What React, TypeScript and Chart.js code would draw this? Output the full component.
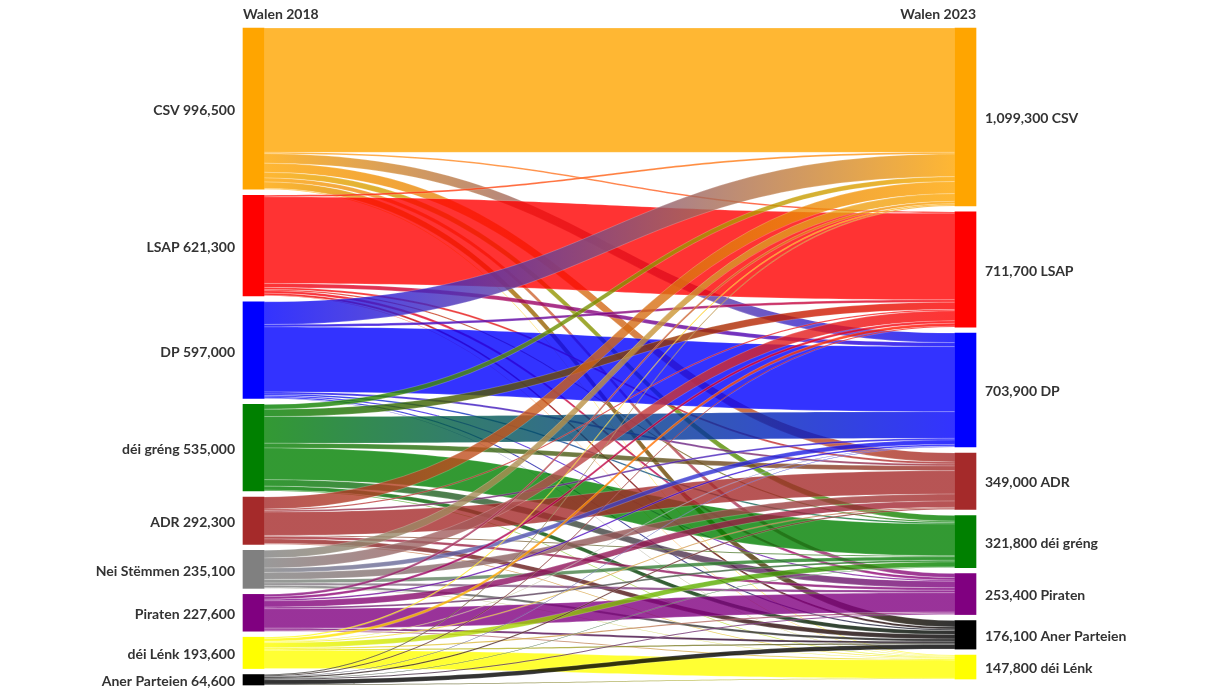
import React, { useEffect, useRef } from 'react';
import { Chart, registerables } from 'chart.js';

Chart.register(...registerables);

// ---- Data -------------------------------------------------------------
const leftTitle = 'Walen 2018';
const rightTitle = 'Walen 2023';

const leftLabels = ['CSV', 'LSAP', 'DP', 'déi gréng', 'ADR', 'Nei Stëmmen', 'Piraten', 'déi Lénk', 'Aner Parteien'];
const leftTotals = [996500, 621300, 597000, 535000, 292300, 235100, 227600, 193600, 64600];
const leftColors = ['#FFA500', '#FF0000', '#0000FF', '#008000', '#A52A2A', '#808080', '#800080', '#FFFF00', '#000000'];

const rightLabels = ['CSV', 'LSAP', 'DP', 'ADR', 'déi gréng', 'Piraten', 'Aner Parteien', 'déi Lénk'];
const rightTotals = [1099300, 711700, 703900, 349000, 321800, 253400, 176100, 147800];
const rightColors = ['#FFA500', '#FF0000', '#0000FF', '#A52A2A', '#008000', '#800080', '#000000', '#FFFF00'];

// Flows from each 2018 node to the 2023 nodes (in rightLabels order)
const fromCSV = [768500, 8000, 58900, 56100, 35000, 25000, 40000, 5000];
const fromLSAP = [10000, 535000, 24700, 12000, 8000, 15000, 13300, 3300];
const fromDP = [140000, 15000, 402000, 12000, 10000, 8000, 8000, 2000];
const fromGreng = [30000, 45000, 165000, 29100, 195900, 40000, 25000, 5000];
const fromADR = [74800, 8000, 10000, 144800, 6000, 15400, 28000, 5300];
const fromNei = [48000, 61700, 27300, 43000, 22000, 15000, 14000, 4100];
const fromPiraten = [15000, 15000, 10000, 39000, 10000, 120000, 12000, 6600];
const fromLenk = [8000, 18000, 3000, 5000, 30900, 9000, 7200, 112500];
const fromAner = [5000, 6000, 3000, 8000, 4000, 6000, 28600, 4000];

const flows = [fromCSV, fromLSAP, fromDP, fromGreng, fromADR, fromNei, fromPiraten, fromLenk, fromAner];

// ---- Layout constants -----------------------------------------------
const NODE_GAP = 37100; // gap between nodes, in value units
const NODE_W = 21;
const W = 1224;
const H = 689;
const FONT = 'bold 14px Lato, "Open Sans", sans-serif';
const TEXT_COLOR = '#333333';

const sum = (a: number[]) => a.reduce((s, v) => s + v, 0);
const leftSizes = flows.map((r) => sum(r));
const rightSizes = rightLabels.map((_, j) => sum(flows.map((r) => r[j])));

function starts(sizes: number[]) {
  const out: number[] = [];
  let acc = 0;
  sizes.forEach((s) => {
    out.push(acc);
    acc += s + NODE_GAP;
  });
  return out;
}
const leftStarts = starts(leftSizes);
const rightStarts = starts(rightSizes);
const Y_MAX = Math.max(
  leftStarts[leftStarts.length - 1] + leftSizes[leftSizes.length - 1],
  rightStarts[rightStarts.length - 1] + rightSizes[rightSizes.length - 1]
);

function rgba(hex: string, a: number) {
  const n = parseInt(hex.slice(1), 16);
  return `rgba(${(n >> 16) & 255},${(n >> 8) & 255},${n & 255},${a})`;
}
const fmt = (v: number) => v.toLocaleString('en-US');

const sankeyPlugin = {
  id: 'sankeyLinks',
  beforeDatasetsDraw(chart: any) {
    const { ctx, scales } = chart;
    const x = scales.x;
    const y = scales.y;
    const xl = x.getPixelForValue(0) + NODE_W / 2;
    const xr = x.getPixelForValue(1) - NODE_W / 2;
    const xm = (xl + xr) / 2;
    const srcOff = leftStarts.slice();
    const tgtOff = rightStarts.slice();
    ctx.save();
    for (let i = 0; i < flows.length; i++) {
      for (let j = 0; j < flows[i].length; j++) {
        const v = flows[i][j];
        const s0 = srcOff[i];
        const s1 = s0 + v;
        srcOff[i] = s1;
        const t0 = tgtOff[j];
        const t1 = t0 + v;
        tgtOff[j] = t1;
        if (v <= 0) continue;
        const ps0 = y.getPixelForValue(s0);
        const ps1 = y.getPixelForValue(s1);
        const pt0 = y.getPixelForValue(t0);
        const pt1 = y.getPixelForValue(t1);
        const g = ctx.createLinearGradient(xl, 0, xr, 0);
        g.addColorStop(0, rgba(leftColors[i], 0.8));
        g.addColorStop(1, rgba(rightColors[j], 0.8));
        ctx.beginPath();
        ctx.moveTo(xl, ps0);
        ctx.bezierCurveTo(xm, ps0, xm, pt0, xr, pt0);
        ctx.lineTo(xr, pt1);
        ctx.bezierCurveTo(xm, pt1, xm, ps1, xl, ps1);
        ctx.closePath();
        ctx.fillStyle = g;
        ctx.fill();
        ctx.strokeStyle = 'rgba(255,255,255,0.4)';
        ctx.lineWidth = 0.5;
        ctx.stroke();
      }
    }
    ctx.restore();
  },
  afterDatasetsDraw(chart: any) {
    const { ctx, scales } = chart;
    const x = scales.x;
    const y = scales.y;
    const xLeftNode = x.getPixelForValue(0) - NODE_W / 2;
    const xRightNode = x.getPixelForValue(1) + NODE_W / 2;
    ctx.save();
    ctx.font = FONT;
    ctx.fillStyle = TEXT_COLOR;
    ctx.textBaseline = 'middle';
    ctx.textAlign = 'right';
    leftLabels.forEach((lab, i) => {
      const cy = y.getPixelForValue(leftStarts[i] + leftSizes[i] / 2) + 2;
      ctx.fillText(`${lab} ${fmt(leftTotals[i])}`, xLeftNode - 8, cy);
    });
    ctx.textAlign = 'left';
    rightLabels.forEach((lab, j) => {
      const cy = y.getPixelForValue(rightStarts[j] + rightSizes[j] / 2) + 1.5;
      ctx.fillText(`${fmt(rightTotals[j])} ${lab}`, xRightNode + 9, cy);
    });
    const top = y.getPixelForValue(0);
    ctx.textAlign = 'left';
    ctx.fillText(leftTitle, xLeftNode, top - 13.5);
    ctx.textAlign = 'right';
    ctx.fillText(rightTitle, xRightNode, top - 13.5);
    ctx.restore();
  },
};

export default function App() {
  const ref = useRef<HTMLCanvasElement | null>(null);
  useEffect(() => {
    document.body.style.margin = '0';
    if (!ref.current) return;
    const nodeData: any[] = [];
    const nodeColors: string[] = [];
    leftSizes.forEach((s, i) => {
      nodeData.push({ x: 0, y: [leftStarts[i], leftStarts[i] + s] });
      nodeColors.push(leftColors[i]);
    });
    rightSizes.forEach((s, j) => {
      nodeData.push({ x: 1, y: [rightStarts[j], rightStarts[j] + s] });
      nodeColors.push(rightColors[j]);
    });
    const chart = new Chart(ref.current, {
      type: 'bar',
      data: {
        datasets: [
          {
            data: nodeData,
            backgroundColor: nodeColors,
            borderWidth: 0,
            barThickness: NODE_W,
            grouped: false,
            clip: false,
          } as any,
        ],
      },
      options: {
        responsive: false,
        animation: false,
        events: [],
        layout: { padding: { left: 253.5, right: W - 965.5, top: 28, bottom: 4 } },
        plugins: { legend: { display: false }, tooltip: { enabled: false }, title: { display: false } },
        scales: {
          x: { type: 'linear', min: 0, max: 1, display: false, offset: false },
          y: { type: 'linear', min: 0, max: Y_MAX, reverse: true, display: false },
        },
      } as any,
      plugins: [sankeyPlugin],
    });
    return () => chart.destroy();
  }, []);
  return (
    <div style={{ position: 'absolute', left: 0, top: 0, width: W, height: H, background: '#fff' }}>
      <canvas ref={ref} width={W} height={H} style={{ display: 'block' }} />
    </div>
  );
}
